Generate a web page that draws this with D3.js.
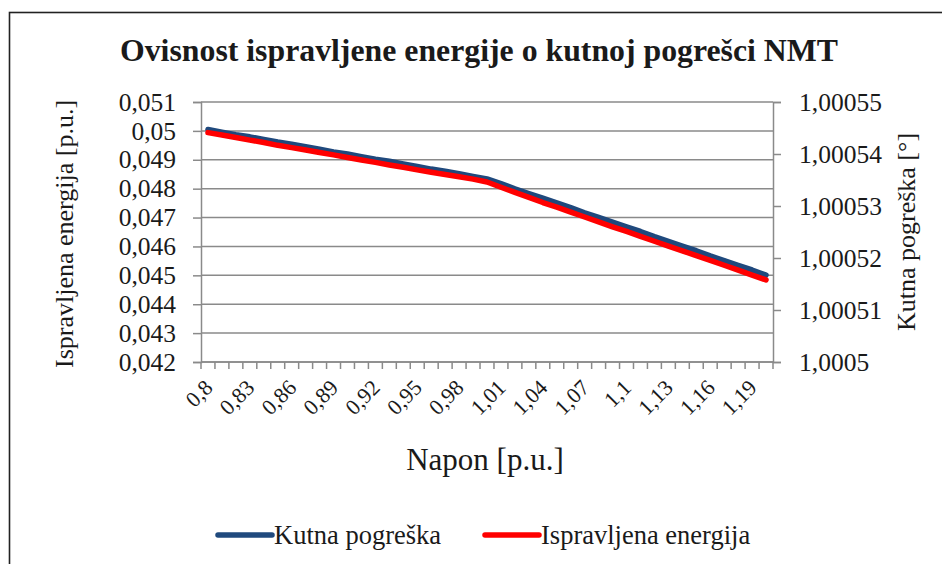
<!DOCTYPE html>
<html>
<head>
<meta charset="utf-8">
<script src="https://cdn.jsdelivr.net/npm/d3@7/dist/d3.min.js"></script>
<style>
  html, body { margin: 0; padding: 0; background: #fff; }
  svg { display: block; }
</style>
</head>
<body>
<svg id="chart" width="942" height="564"></svg>
<script>
// Napon [p.u.] categories
const napon = [0.80, 0.81, 0.82, 0.83, 0.84, 0.85, 0.86, 0.87, 0.88, 0.89,
               0.90, 0.91, 0.92, 0.93, 0.94, 0.95, 0.96, 0.97, 0.98, 0.99,
               1.00, 1.01, 1.02, 1.03, 1.04, 1.05, 1.06, 1.07, 1.08, 1.09,
               1.10, 1.11, 1.12, 1.13, 1.14, 1.15, 1.16, 1.17, 1.18, 1.19, 1.20];

// Kutna pogreška [°] (right axis)
const kutnaPogreska = [1.0005447, 1.0005442, 1.0005437, 1.0005433, 1.0005428, 1.0005423, 1.0005419, 1.0005414, 1.0005409, 1.0005404,
                       1.0005400, 1.0005395, 1.0005390, 1.0005386, 1.0005381, 1.0005376, 1.0005371, 1.0005367, 1.0005362, 1.0005357,
                       1.0005352, 1.0005343, 1.0005333, 1.0005324, 1.0005315, 1.0005306, 1.0005297, 1.0005287, 1.0005278, 1.0005269,
                       1.0005260, 1.0005251, 1.0005241, 1.0005232, 1.0005223, 1.0005214, 1.0005204, 1.0005195, 1.0005186, 1.0005177, 1.0005167];

// Ispravljena energija [p.u.] (left axis)
const ispravljenaEnergija = [0.04994, 0.04986, 0.04977, 0.04968, 0.04960, 0.04950, 0.04942, 0.04934, 0.04925, 0.04917,
                             0.04908, 0.04899, 0.04891, 0.04882, 0.04874, 0.04865, 0.04857, 0.04849, 0.04841, 0.04833,
                             0.04823, 0.04805, 0.04787, 0.04770, 0.04752, 0.04736, 0.04719, 0.04702, 0.04685, 0.04668,
                             0.04652, 0.04635, 0.04618, 0.04601, 0.04585, 0.04568, 0.04552, 0.04535, 0.04518, 0.04501, 0.04484];

const leftTicks = [0.042, 0.043, 0.044, 0.045, 0.046, 0.047, 0.048, 0.049, 0.05, 0.051];
const rightTicks = [1.0005, 1.00051, 1.00052, 1.00053, 1.00054, 1.00055];
const xLabelEvery = 3;

const TEXT_COLOR = "#1a1a1a";
const serif = sel => sel
  .attr("font-family", "Liberation Serif")
  .style("font-family", '"Liberation Serif"')
  .style("fill", TEXT_COLOR);

const svg = d3.select("#chart");
const plot = { left: 201, right: 773, top: 102, bottom: 362 };
const gridColor = "#8a8a8a";
const comma = v => String(+v.toPrecision(8)).replace(".", ",");

// outer frame (top and left edges visible)
svg.append("rect").attr("x", 9.5).attr("y", 12.5).attr("width", 1000).attr("height", 1000)
  .attr("fill", "none").attr("stroke", "#222").attr("stroke-width", 1.6);

const x = d3.scaleBand().domain(napon.map(String)).range([plot.left, plot.right]).padding(0);
const yL = d3.scaleLinear().domain([0.042, 0.051]).range([plot.bottom, plot.top]);
const yR = d3.scaleLinear().domain([1.0005, 1.00055]).range([plot.bottom, plot.top]);
const cx = i => x(String(napon[i])) + x.bandwidth() / 2;

// horizontal gridlines
svg.append("g").selectAll("line").data(leftTicks).join("line")
  .attr("x1", plot.left).attr("x2", plot.right)
  .attr("y1", d => yL(d)).attr("y2", d => yL(d))
  .attr("stroke", gridColor).attr("stroke-width", 1.5);

// left axis
const gL = svg.append("g").attr("transform", `translate(${plot.left},0)`)
  .call(d3.axisLeft(yL).tickValues(leftTicks).tickSize(8).tickPadding(17).tickFormat(comma));
gL.attr("font-family", null).attr("font-size", null);
gL.select(".domain").attr("stroke", gridColor).attr("stroke-width", 1.5);
gL.selectAll(".tick line").attr("stroke", gridColor).attr("stroke-width", 1.5);
gL.selectAll(".tick text").attr("font-size", 25.5).call(serif);

// right axis
const gR = svg.append("g").attr("transform", `translate(${plot.right},0)`)
  .call(d3.axisRight(yR).tickValues(rightTicks).tickSize(8).tickPadding(18).tickFormat(comma));
gR.attr("font-family", null).attr("font-size", null);
gR.select(".domain").attr("stroke", gridColor).attr("stroke-width", 1.5);
gR.selectAll(".tick line").attr("stroke", gridColor).attr("stroke-width", 1.5);
gR.selectAll(".tick text").attr("font-size", 25.5).call(serif);

// bottom axis: ticks between categories
const edges = napon.map(d => x(String(d))).concat([plot.right]);
svg.append("line").attr("x1", plot.left).attr("x2", plot.right)
  .attr("y1", plot.bottom).attr("y2", plot.bottom).attr("stroke", gridColor).attr("stroke-width", 1.5);
svg.append("g").selectAll("line").data(edges).join("line")
  .attr("x1", d => d).attr("x2", d => d)
  .attr("y1", plot.bottom).attr("y2", plot.bottom + 7)
  .attr("stroke", gridColor).attr("stroke-width", 1.5);

svg.append("g").selectAll("text")
  .data(napon.filter((d, i) => i % xLabelEvery === 0))
  .join("text")
  .attr("transform", d => `translate(${x(String(d)) + x.bandwidth() / 2 + 6},${plot.bottom + 27}) rotate(-45)`)
  .attr("text-anchor", "end")
  .attr("font-size", 22)
  .call(serif)
  .text(d => comma(d));

// series lines
const lineR = d3.line().x((d, i) => cx(i)).y(d => yR(d));
const lineL = d3.line().x((d, i) => cx(i)).y(d => yL(d));

svg.append("path").datum(kutnaPogreska).attr("d", lineR)
  .attr("fill", "none").attr("stroke", "#1f497d").attr("stroke-width", 5.5)
  .attr("stroke-linecap", "round").attr("stroke-linejoin", "round");
svg.append("path").datum(ispravljenaEnergija).attr("d", lineL)
  .attr("fill", "none").attr("stroke", "#ff0000").attr("stroke-width", 5.5)
  .attr("stroke-linecap", "round").attr("stroke-linejoin", "round");

// title
svg.append("text").attr("x", 479).attr("y", 61).attr("text-anchor", "middle")
  .attr("font-size", 32).style("font-weight", "bold")
  .attr("textLength", 718).attr("lengthAdjust", "spacingAndGlyphs")
  .call(serif)
  .text("Ovisnost ispravljene energije o kutnoj pogrešci NMT");

// axis titles
svg.append("text").attr("transform", "translate(73,234) rotate(-90)")
  .attr("text-anchor", "middle").attr("font-size", 26).call(serif)
  .text("Ispravljena energija  [p.u.]");
svg.append("text").attr("transform", "translate(915,232) rotate(-90)")
  .attr("text-anchor", "middle").attr("font-size", 26).call(serif)
  .text("Kutna pogreška [°]");
svg.append("text").attr("x", 485).attr("y", 470).attr("text-anchor", "middle")
  .attr("font-size", 31).call(serif)
  .text("Napon [p.u.]");

// legend
const legend = [
  { name: "Kutna pogreška", color: "#1f497d", x: 218 },
  { name: "Ispravljena energija", color: "#ff0000", x: 485 }
];
const lg = svg.append("g").selectAll("g").data(legend).join("g")
  .attr("transform", d => `translate(${d.x},535)`);
lg.append("line").attr("x1", 0).attr("x2", 54).attr("y1", 0).attr("y2", 0)
  .attr("stroke", d => d.color).attr("stroke-width", 5.5).attr("stroke-linecap", "round");
lg.append("text").attr("x", 56).attr("y", 9).attr("font-size", 26.5).call(serif).text(d => d.name);
</script>
</body>
</html>
